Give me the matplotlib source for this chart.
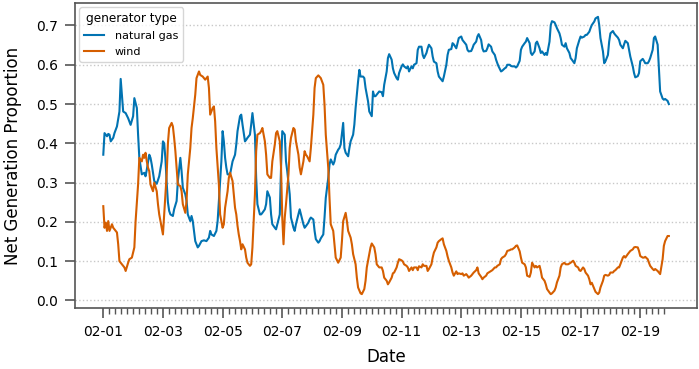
import matplotlib
matplotlib.use('Agg')
import matplotlib.pyplot as plt
import matplotlib.dates as mdates
import matplotlib.ticker as mticker
import pandas as pd

# hourly readings, hours counted from 2021-02-01 00:00
start = pd.Timestamp('2021-02-01')

gas_points = [
    (0, .371), (1, .426), (3, .418), (4, .424), (5, .422), (6, .405), (8, .414), (9, .426), (11, .443),
    (13, .481), (14, .564), (16, .481), (18, .477), (20, .464), (22, .447), (24, .469), (25, .515),
    (27, .490), (28, .422), (29, .363), (31, .321), (33, .325), (34, .316), (35, .333), (37, .371),
    (38, .363), (39, .346), (41, .304), (43, .297), (45, .316), (47, .354), (48, .405), (49, .400),
    (50, .360), (51, .300), (52, .250), (53, .228), (54, .219), (56, .215), (57, .232), (59, .253),
    (60, .304), (62, .363), (63, .329), (64, .287), (66, .270), (67, .253), (68, .219), (70, .202),
    (71, .215), (72, .202), (74, .151), (76, .135), (77, .139), (79, .151), (81, .153), (83, .151),
    (85, .160), (86, .177), (87, .168), (89, .164), (91, .177), (92, .202), (93, .253), (95, .354),
    (96, .431), (97, .405), (98, .363), (99, .338), (100, .321), (102, .321), (103, .338), (104, .354),
    (106, .371), (107, .397), (108, .431), (110, .469), (111, .473), (112, .448), (114, .405), (115, .409),
    (116, .414), (118, .422), (119, .448), (120, .477), (122, .422), (123, .312), (124, .245), (126, .219),
    (127, .219), (128, .223), (130, .232), (131, .245), (132, .278), (134, .262), (135, .219), (136, .194),
    (138, .185), (139, .181), (140, .194), (142, .219), (143, .338), (144, .431), (146, .422), (147, .354),
    (148, .329), (150, .270), (151, .211), (153, .185), (154, .177), (155, .194), (157, .219), (158, .232),
    (159, .219), (161, .194), (162, .185), (163, .189), (165, .198), (166, .206), (167, .211), (169, .206),
    (170, .177), (171, .156), (173, .147), (174, .151), (175, .158), (177, .168), (178, .211), (179, .261),
    (181, .312), (182, .346), (183, .359), (185, .346), (186, .354), (187, .371), (189, .384), (190, .388),
    (191, .397), (193, .452), (194, .388), (195, .376), (197, .367), (198, .388), (199, .405), (201, .422),
    (202, .448), (203, .490), (205, .558), (206, .587), (207, .570), (209, .570), (210, .566), (211, .541),
    (213, .507), (214, .481), (216, .469), (217, .532), (218, .520), (219, .520), (221, .528), (222, .532),
    (224, .530), (225, .520), (226, .549), (228, .583), (229, .617), (230, .627), (232, .613), (233, .591),
    (234, .579), (236, .566), (237, .562), (238, .579), (240, .596), (241, .601), (242, .596), (244, .591),
    (245, .596), (246, .583), (248, .596), (249, .591), (250, .600), (252, .604), (253, .638), (254, .646),
    (256, .646), (257, .625), (258, .617), (260, .630), (261, .642), (262, .651), (264, .642), (265, .621),
    (266, .608), (268, .604), (269, .583), (270, .570), (272, .562), (273, .558), (274, .570), (276, .600),
    (277, .625), (278, .638), (280, .640), (281, .655), (282, .652), (284, .642), (285, .655), (286, .668),
    (288, .672), (289, .663), (290, .659), (292, .651), (293, .638), (294, .634), (296, .635), (297, .642),
    (298, .651), (300, .659), (301, .672), (302, .678), (304, .663), (305, .642), (306, .634), (308, .635),
    (309, .642), (310, .652), (312, .646), (313, .634), (315, .625), (316, .613), (317, .604), (318, .596),
    (320, .583), (321, .585), (323, .591), (324, .593), (325, .600), (327, .600), (328, .597), (329, .596),
    (331, .596), (332, .593), (333, .596), (335, .610), (336, .638), (337, .646), (339, .655), (340, .659),
    (341, .668), (343, .655), (344, .630), (345, .625), (347, .634), (348, .655), (349, .659), (351, .642),
    (352, .630), (353, .634), (355, .625), (356, .630), (357, .625), (359, .659), (360, .701), (361, .711),
    (363, .708), (364, .701), (365, .693), (367, .680), (368, .668), (369, .651), (371, .646), (372, .655),
    (373, .642), (375, .630), (376, .617), (377, .613), (379, .604), (380, .617), (381, .642), (383, .663),
    (384, .672), (385, .669), (387, .672), (388, .676), (389, .676), (391, .684), (392, .693), (393, .701),
    (395, .710), (396, .718), (398, .722), (399, .701), (400, .668), (402, .634), (403, .604), (404, .609),
    (406, .625), (407, .659), (408, .680), (410, .686), (411, .680), (412, .676), (414, .669), (415, .663),
    (416, .651), (418, .642), (419, .652), (420, .661), (422, .655), (423, .638), (424, .621), (426, .596),
    (427, .579), (428, .568), (430, .571), (431, .579), (432, .609), (434, .615), (435, .610), (436, .604),
    (438, .604), (439, .609), (440, .617), (442, .638), (443, .668), (444, .672), (446, .651), (447, .591),
    (448, .532), (450, .514), (451, .511), (452, .513), (454, .508), (455, .500),
]

wind_points = [
    (0, .240), (1, .185), (2, .198), (3, .177), (4, .202), (5, .177), (7, .194), (8, .185), (11, .173),
    (12, .143), (13, .100), (15, .092), (17, .084), (18, .075), (20, .096), (21, .105), (23, .109),
    (25, .135), (26, .202), (28, .295), (29, .363), (31, .354), (32, .371), (33, .363), (34, .376),
    (35, .354), (36, .338), (37, .329), (38, .295), (40, .278), (41, .300), (43, .278), (44, .245),
    (45, .219), (47, .185), (48, .168), (49, .219), (51, .321), (52, .400), (53, .439), (55, .452),
    (56, .443), (57, .414), (58, .380), (59, .338), (60, .295), (62, .291), (63, .278), (64, .245),
    (66, .223), (67, .253), (68, .321), (70, .388), (71, .439), (72, .464), (74, .524), (75, .566),
    (77, .583), (78, .574), (80, .570), (82, .562), (84, .570), (85, .541), (86, .473), (88, .490),
    (89, .494), (90, .456), (91, .388), (93, .295), (94, .219), (96, .185), (97, .194), (98, .236),
    (100, .278), (101, .312), (102, .325), (104, .304), (105, .270), (106, .236), (107, .219), (108, .190),
    (109, .168), (110, .151), (111, .130), (112, .143), (114, .130), (115, .109), (116, .096), (118, .088),
    (119, .092), (120, .135), (122, .270), (123, .380), (124, .422), (126, .426), (127, .431), (128, .439),
    (130, .405), (131, .371), (132, .321), (134, .312), (135, .312), (136, .354), (138, .397), (139, .426),
    (140, .431), (142, .405), (143, .338), (144, .211), (145, .143), (146, .211), (147, .245), (149, .321),
    (150, .388), (151, .414), (153, .439), (154, .435), (155, .405), (157, .371), (158, .338), (159, .321),
    (161, .354), (162, .380), (163, .371), (164, .367), (166, .354), (167, .388), (169, .473), (170, .541),
    (171, .566), (173, .573), (175, .566), (177, .549), (178, .498), (179, .422), (181, .338), (182, .261),
    (183, .194), (185, .177), (186, .143), (187, .109), (189, .096), (191, .109), (192, .151), (193, .202),
    (195, .223), (196, .202), (197, .177), (199, .160), (200, .143), (201, .118), (203, .092), (204, .058),
    (205, .033), (207, .018), (208, .016), (210, .029), (211, .050), (212, .084), (214, .118), (215, .135),
    (216, .145), (218, .135), (219, .118), (220, .092), (222, .084), (224, .084), (225, .075), (226, .058),
    (228, .050), (229, .041), (230, .046), (232, .058), (233, .069), (234, .071), (236, .084), (237, .096),
    (238, .105), (240, .102), (241, .099), (242, .092), (244, .088), (245, .084), (246, .075), (248, .084),
    (249, .077), (250, .084), (252, .084), (253, .077), (254, .087), (256, .084), (257, .092), (258, .088),
    (260, .088), (261, .075), (262, .080), (264, .092), (265, .109), (266, .122), (268, .135), (269, .147),
    (270, .151), (272, .156), (273, .158), (274, .143), (276, .126), (277, .112), (278, .101), (280, .084),
    (281, .071), (282, .063), (284, .074), (285, .067), (286, .069), (288, .067), (289, .069), (290, .063),
    (292, .067), (293, .063), (294, .058), (296, .063), (297, .067), (298, .071), (300, .077), (301, .084),
    (302, .069), (304, .060), (305, .054), (306, .058), (308, .063), (309, .069), (310, .071), (312, .075),
    (313, .077), (315, .084), (316, .084), (317, .088), (319, .092), (320, .105), (321, .109), (323, .113),
    (324, .118), (325, .126), (327, .128), (328, .130), (329, .130), (331, .135), (332, .139), (333, .140),
    (335, .125), (336, .109), (337, .096), (339, .092), (340, .084), (341, .063), (343, .060), (344, .071),
    (345, .096), (347, .084), (348, .088), (349, .084), (351, .088), (352, .075), (353, .058), (355, .050),
    (356, .041), (357, .029), (359, .020), (360, .016), (361, .018), (363, .025), (364, .033), (365, .046),
    (367, .063), (368, .084), (369, .092), (371, .096), (372, .092), (374, .092), (375, .094), (376, .096),
    (378, .101), (379, .096), (380, .088), (382, .084), (383, .077), (384, .075), (386, .084), (387, .080),
    (388, .071), (390, .063), (391, .054), (392, .041), (393, .045), (395, .030), (396, .022), (398, .016),
    (399, .020), (400, .033), (402, .050), (403, .063), (404, .065), (406, .063), (407, .065), (408, .071),
    (410, .071), (411, .075), (412, .077), (414, .084), (415, .084), (416, .092), (418, .109), (419, .113),
    (420, .109), (422, .118), (423, .122), (424, .126), (426, .130), (427, .135), (428, .136), (430, .135),
    (431, .126), (432, .113), (434, .109), (435, .109), (436, .111), (438, .105), (439, .096), (440, .088),
    (442, .080), (443, .077), (444, .080), (446, .075), (447, .071), (448, .067), (450, .105), (451, .139),
    (452, .151), (454, .164), (455, .164),
]

series_names = ['natural gas', 'wind']
series_colors = ['#0173B2', '#D55E00']
y_ticks = [0.0, 0.1, 0.2, 0.3, 0.4, 0.5, 0.6, 0.7]


def to_frame(points):
    hours, vals = zip(*points)
    return pd.DataFrame({'date': start + pd.to_timedelta(hours, unit='h'), 'value': vals})


fig = plt.figure(figsize=(6.99, 3.69), dpi=100)
ax = fig.add_axes([0.1073, 0.1653, 0.89, 0.8266])

for name, pts, col in zip(series_names, [gas_points, wind_points], series_colors):
    df = to_frame(pts)
    ax.plot(df['date'], df['value'], color=col, linewidth=1.5, label=name)

ax.yaxis.grid(True, color='#c8c8c8', linestyle=':', linewidth=1.0)
ax.set_axisbelow(True)
ax.set_yticks(y_ticks)
ax.yaxis.set_major_formatter(mticker.FormatStrFormatter('%.1f'))

ax.xaxis.set_major_locator(mdates.DayLocator(interval=2))
ax.xaxis.set_major_formatter(mdates.DateFormatter('%m-%d'))
last = start + pd.Timedelta(hours=455)
minor = pd.date_range(start, last, freq='288min')
ax.xaxis.set_minor_locator(mticker.FixedLocator(mdates.date2num(minor)))

for s in ax.spines.values():
    s.set_color('#555555')
    s.set_linewidth(1.2)
ax.tick_params(axis='both', which='major', length=7, width=1.2, color='#555555', labelsize=10, pad=5)
ax.tick_params(axis='x', which='minor', length=4, width=1.0, color='#555555')

ax.set_xlabel('Date', fontsize=12, labelpad=7)
ax.set_ylabel('Net Generation Proportion', fontsize=12, labelpad=10)

leg = ax.legend(title='generator type', loc='upper left', fontsize=8, title_fontsize=8.7,
                frameon=True, fancybox=True, borderaxespad=0.4,
                handlelength=1.8, handletextpad=1.0, labelspacing=0.55)
leg.get_frame().set_edgecolor('#cccccc')

fig.savefig('out.png', dpi=100)
